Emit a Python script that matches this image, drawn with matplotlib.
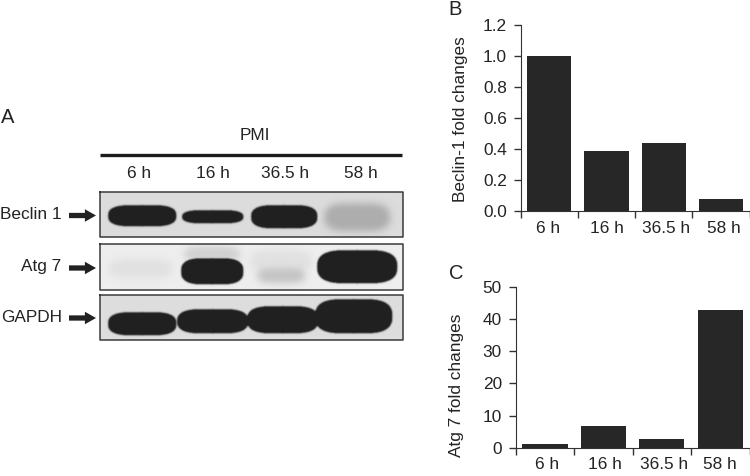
#!/usr/bin/env python3
"""Blot panel (A) with two bar charts of fold changes (B, C)."""
import matplotlib
matplotlib.use("Agg")
import matplotlib.pyplot as plt
import numpy as np

plt.rcParams["font.family"] = ["Liberation Sans", "DejaVu Sans"]

W, H = 750, 476
FG = "#232323"
BAR_C = "#272727"
FS = 12.4

TIMES = ["6 h", "16 h", "36.5 h", "58 h"]
BECLIN = [1.0, 0.39, 0.44, 0.08]
ATG7 = [1.0, 6.7, 2.6, 42.7]
BECLIN_TICKS = [0.0, 0.2, 0.4, 0.6, 0.8, 1.0, 1.2]
ATG7_TICKS = [0, 10, 20, 30, 40, 50]

# blot bands: x0, x1, y0, y1, darkness (pixels)
BECLIN_BANDS = [(108, 176, 205, 226, 1.0), (182, 243, 210, 223, 1.0),
                (251, 317, 205, 228, 1.0), (324, 390, 203, 231, 0.25)]
ATG7_BANDS = [(108, 172, 259, 278, 0.06), (181, 243, 258, 284, 1.0),
              (184, 240, 246, 262, 0.14), (257, 305, 268, 283, 0.2),
              (250, 312, 250, 272, 0.06), (317, 397, 250, 283, 1.0)]
GAPDH_BANDS = [(108, 176, 312, 335, 1.0), (177, 248, 309, 333, 1.0),
               (247, 318, 306, 333, 1.0), (315, 392, 299, 333, 1.0)]
BLOT_BOXES = [(100, 403, 192, 237), (100, 403, 244, 290), (100, 403, 295, 340)]
BLOT_BANDS = [BECLIN_BANDS, ATG7_BANDS, GAPDH_BANDS]
BLOT_BG = [0.86, 0.93, 0.87]
BLOT_NAMES = ["Beclin 1", "Atg 7", "GAPDH"]
BLOT_NAME_X = [61.5, 61, 62]
BLOT_ROW_Y = [215.5, 268, 318]
LANE_X = [139, 213, 285, 361]


def px_axes(fig, x0, x1, y_top, y_bottom):
    return fig.add_axes([x0 / W, 1 - y_bottom / H, (x1 - x0) / W, (y_bottom - y_top) / H])


def blur(img, sigma):
    r = int(3 * sigma)
    k = np.exp(-0.5 * (np.arange(-r, r + 1) / sigma) ** 2)
    k /= k.sum()
    pad = np.pad(img, r, mode="edge")
    pad = np.apply_along_axis(lambda v: np.convolve(v, k, mode="same"), 0, pad)
    pad = np.apply_along_axis(lambda v: np.convolve(v, k, mode="same"), 1, pad)
    return pad[r:-r, r:-r]


def blot_image(box, bands, bg):
    x0, x1, y0, y1 = box
    xs = np.arange(x0, x1, 0.5)
    ys = np.arange(y0, y1, 0.5)
    xx, yy = np.meshgrid(xs, ys)
    strong = np.zeros_like(xx)
    faint = np.zeros_like(xx)
    for bx0, bx1, by0, by1, d in bands:
        cx, cy = (bx0 + bx1) / 2, (by0 + by1) / 2
        a, b = (bx1 - bx0) / 2, (by1 - by0) / 2
        inside = np.abs((xx - cx) / a) ** 4 + np.abs((yy - cy) / b) ** 2.5 <= 1
        if d > 0.5:
            strong = np.maximum(strong, inside * d)
        else:
            faint = np.maximum(faint, inside * d)
    # hard bands keep a tight edge, faint ones smear out
    dark = np.clip(blur(strong, 1.6) * 1.3, 0, 1)
    dark = np.maximum(dark, blur(faint, 7.0))
    return bg - dark * (bg - 0.13)


def bar_panel(fig, pos, values, yticks, ylim, label_dx):
    ax = px_axes(fig, *pos)
    x = np.arange(len(values))
    ax.bar(x, values, width=0.775, color=BAR_C, zorder=2)
    ax.set_xlim(-0.5, 3.5)
    ax.set_ylim(*ylim)
    ax.spines[["top", "right"]].set_visible(False)
    ax.spines[["left", "bottom"]].set_color("#333333")
    ax.set_yticks(yticks)
    ax.set_xticks(np.arange(-0.5, 4.0, 1.0))
    ax.set_xticklabels([])
    ax.set_xticks(x + np.array(label_dx), TIMES, minor=True)
    ax.tick_params(axis="x", which="major", length=5, width=1, color="#333333")
    ax.tick_params(axis="x", which="minor", length=0, pad=7, labelsize=FS, labelcolor=FG)
    ax.tick_params(axis="y", length=5, width=1, color="#333333", labelsize=FS,
                   labelcolor=FG, pad=5)
    return ax


def draw_blot(fig):
    ov = fig.add_axes([0, 0, 1, 1], zorder=5)
    ov.axis("off")
    ov.patch.set_alpha(0)
    for box, bands, bg in zip(BLOT_BOXES, BLOT_BANDS, BLOT_BG):
        x0, x1, y0, y1 = box
        ov.imshow(blot_image(box, bands, bg), cmap="gray", vmin=0, vmax=1, aspect="auto",
                  extent=(x0, x1, y1, y0), interpolation="bilinear")
        ov.plot([x0, x1, x1, x0, x0], [y0, y0, y1, y1, y0], color="#3a3a3a", lw=1.1)
    ov.set_xlim(0, W)
    ov.set_ylim(H, 0)
    ov.plot([100, 402], [154.5, 154.5], color="#1c1c1c", lw=2.4, solid_capstyle="butt")
    ov.text(255, 136, "PMI", ha="center", va="center", fontsize=FS, color=FG)
    for lx, t in zip(LANE_X, TIMES):
        ov.text(lx, 173, t, ha="center", va="center", fontsize=FS, color=FG)
    for name, nx, ry in zip(BLOT_NAMES, BLOT_NAME_X, BLOT_ROW_Y):
        ov.text(nx, ry - 1, name, ha="right", va="center", fontsize=FS, color=FG)
        ov.annotate("", xy=(96, ry), xytext=(69, ry),
                    arrowprops=dict(arrowstyle="simple,head_length=0.8,head_width=0.9,tail_width=0.38",
                                    color="#222222", lw=0, shrinkA=0, shrinkB=0))
    ov.text(1, 123, "A", ha="left", va="baseline", fontsize=14.5, color=FG)
    ov.text(448, 15, "B", ha="left", va="baseline", fontsize=14.5, color=FG)
    ov.text(449, 279, "C", ha="left", va="baseline", fontsize=14.5, color=FG)
    ov.text(460, 119, "Beclin-1 fold changes", rotation=90, ha="center", va="center",
            fontsize=FS, color=FG)
    ov.text(457, 385, "Atg 7 fold changes", rotation=90, ha="center", va="center",
            fontsize=FS, color=FG)


fig = plt.figure(figsize=(W / 100, H / 100), dpi=100, facecolor="white")
bar_panel(fig, (520.7, 749.5, 25.3, 211.3), BECLIN, BECLIN_TICKS, (0, 1.2),
          [-0.03, 0.0, 0.04, 0.05])
bar_panel(fig, (515.7, 749.5, 286.7, 447.7), ATG7, ATG7_TICKS, (0, 50),
          [0.03, 0.03, 0.03, 0.0])
draw_blot(fig)
fig.savefig("out.png", dpi=100)
print("wrote out.png")
